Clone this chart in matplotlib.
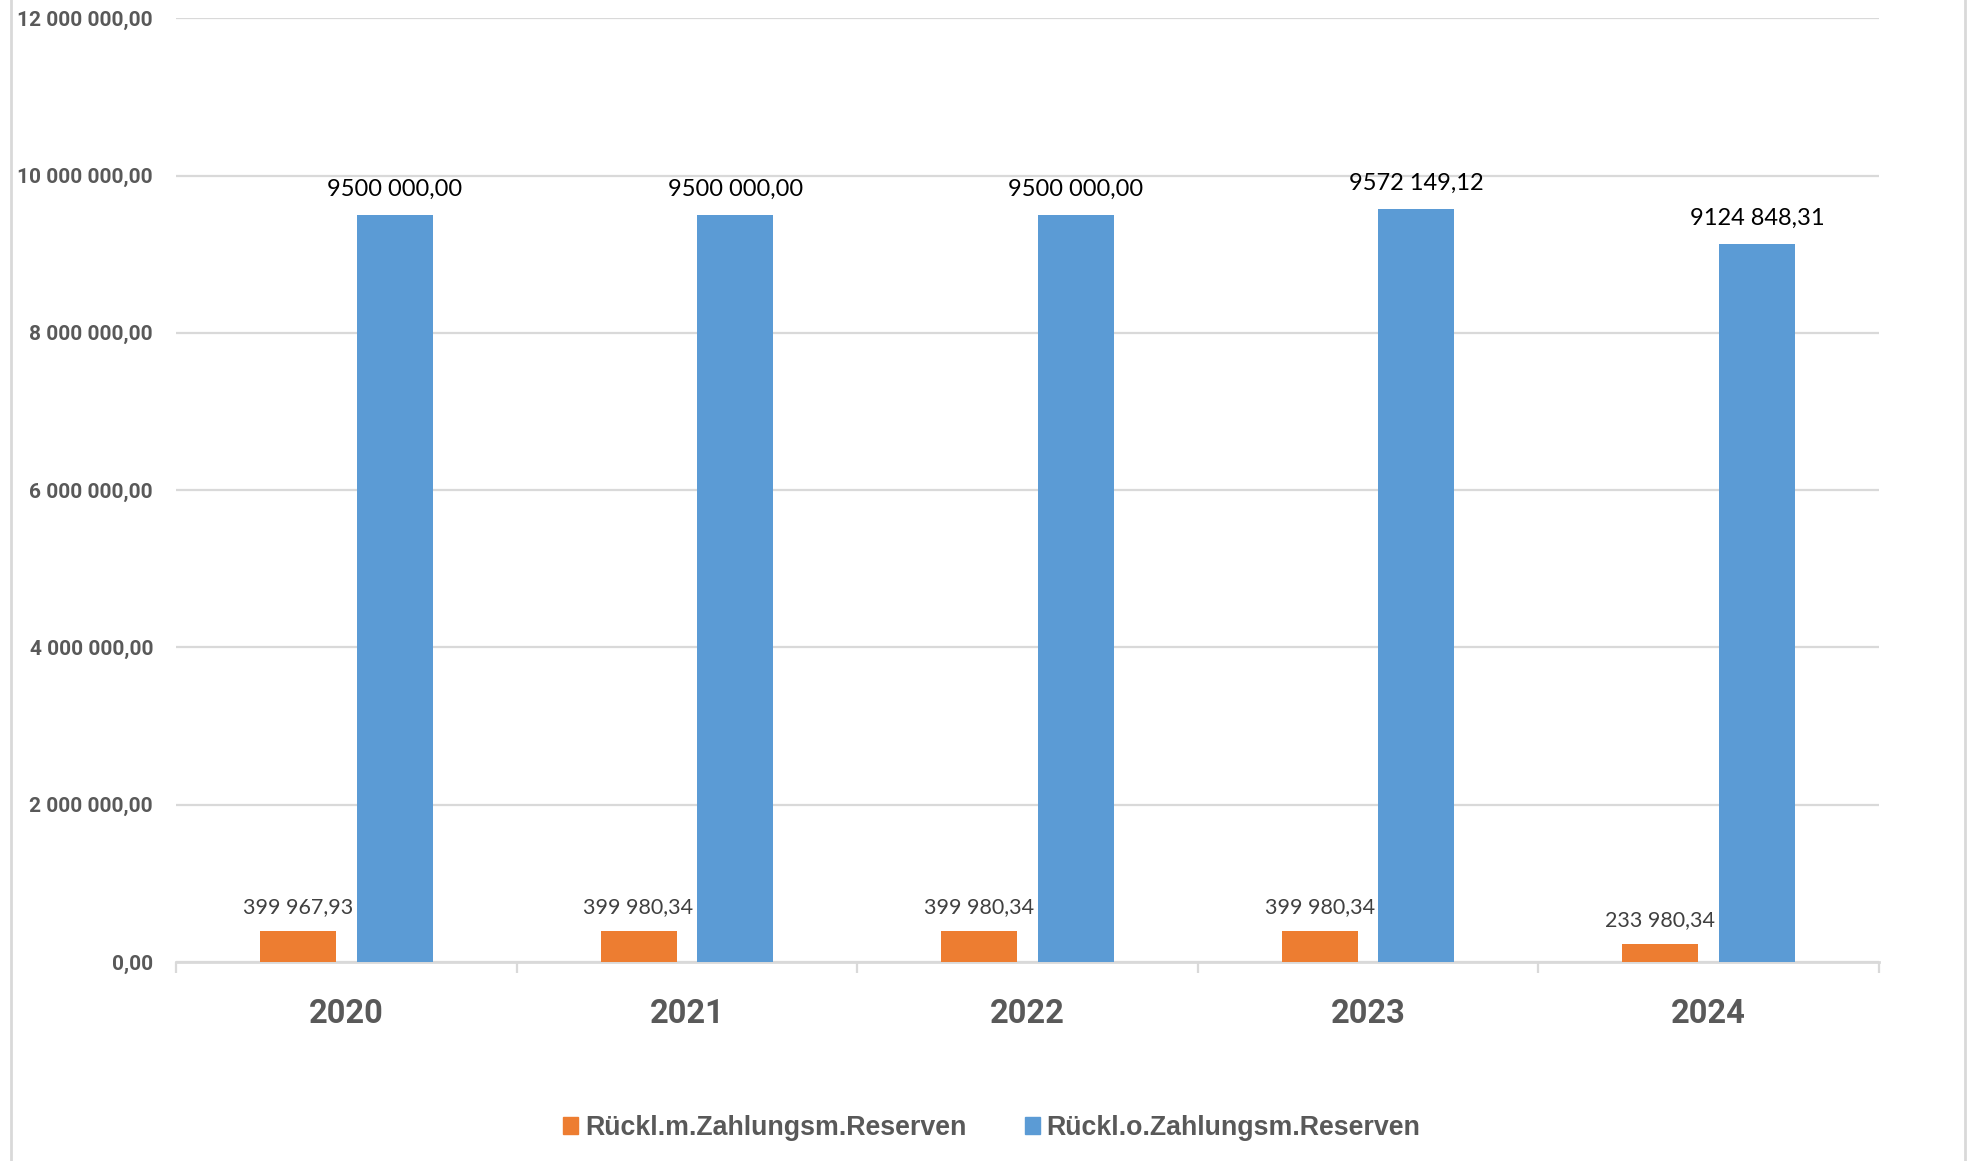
import matplotlib
matplotlib.use("Agg")
import matplotlib.pyplot as plt
from matplotlib.lines import Line2D
from matplotlib.patches import Rectangle
import numpy as np

years = ["2020", "2021", "2022", "2023", "2024"]
series_names = ["Rückl.m.Zahlungsm.Reserven", "Rückl.o.Zahlungsm.Reserven"]
mit_reserven = [399967.93, 399980.34, 399980.34, 399980.34, 233980.34]
ohne_reserven = [9500000.00, 9500000.00, 9500000.00, 9572149.12, 9124848.31]
y_ticks = [0, 2000000, 4000000, 6000000, 8000000, 10000000, 12000000]

ORANGE = "#ED7D31"
BLUE = "#5B9BD5"
GRID = "#D9D9D9"
TXT = "#595959"
FONT = "Lato"
BFONT = "Roboto"


def fmt_full(v):
    s = f"{v:,.2f}"
    return s.replace(",", " ").replace(".", ",")


def fmt_label(v):
    ip = int(v)
    dec = f"{v - ip:.2f}"[2:]
    s = str(ip)
    if len(s) > 3:
        s = s[:-3] + " " + s[-3:]
    return f"{s},{dec}"


W, H = 1968, 1161
fig = plt.figure(figsize=(W / 100, H / 100), dpi=100)
ax = fig.add_axes([176 / W, 1 - 962 / H, (1879 - 176) / W, (962 - 18.3) / H])

x = np.arange(len(years))
bw = 0.223
off = 0.142
b1 = ax.bar(x - off, mit_reserven, bw, color=ORANGE, zorder=3)
b2 = ax.bar(x + off, ohne_reserven, bw, color=BLUE, zorder=3)

ax.set_ylim(0, 12000000)
ax.set_xlim(-0.5, len(years) - 0.5)
ax.set_yticks(y_ticks)
ax.set_yticklabels([fmt_full(v) for v in y_ticks], fontsize=15, fontweight="bold",
                   color=TXT, fontname=BFONT)
ax.tick_params(axis="y", length=0, pad=16.5)
ax.grid(axis="y", color=GRID, linewidth=1.6, zorder=0)

ax.set_xticks(x)
ax.set_xticklabels(years, fontsize=23.5, fontweight="bold", color=TXT, fontname=BFONT)
ax.tick_params(axis="x", which="major", length=0, pad=26)
ax.set_xticks(np.arange(-0.5, len(years)), minor=True)
ax.tick_params(axis="x", which="minor", length=8, width=1.6, color=GRID)

for s in ["top", "right", "left"]:
    ax.spines[s].set_visible(False)
ax.spines["bottom"].set_color(GRID)
ax.spines["bottom"].set_linewidth(2)

for rect, v in zip(b1, mit_reserven):
    ax.annotate(fmt_label(v), (rect.get_x() + rect.get_width() / 2, v),
                xytext=(0, 10), textcoords="offset points", ha="center", va="bottom",
                fontsize=15.5, color="#404040", fontname=FONT)
for rect, v in zip(b2, ohne_reserven):
    ax.annotate(fmt_label(v), (rect.get_x() + rect.get_width() / 2, v),
                xytext=(0, 11), textcoords="offset points", ha="center", va="bottom",
                fontsize=17, color="black", fontname=FONT)

# legend
handles = [Rectangle((0, 0), 1, 1, color=ORANGE), Rectangle((0, 0), 1, 1, color=BLUE)]
leg = fig.legend(handles, series_names, loc="center", bbox_to_anchor=(0.504, 1 - 1128 / H),
                 ncol=2, frameon=False, handlelength=0.55, handleheight=0.55,
                 handletextpad=0.25, columnspacing=2.2,
                 prop={"family": "Liberation Sans", "weight": "bold", "size": 19.3})
for t in leg.get_texts():
    t.set_color(TXT)

# chart border lines
fig.add_artist(Line2D([11 / W, 11 / W], [0, 1], color=GRID, linewidth=2))
fig.add_artist(Line2D([1965 / W, 1965 / W], [0, 1], color=GRID, linewidth=2))

fig.savefig("out.png", dpi=100)
